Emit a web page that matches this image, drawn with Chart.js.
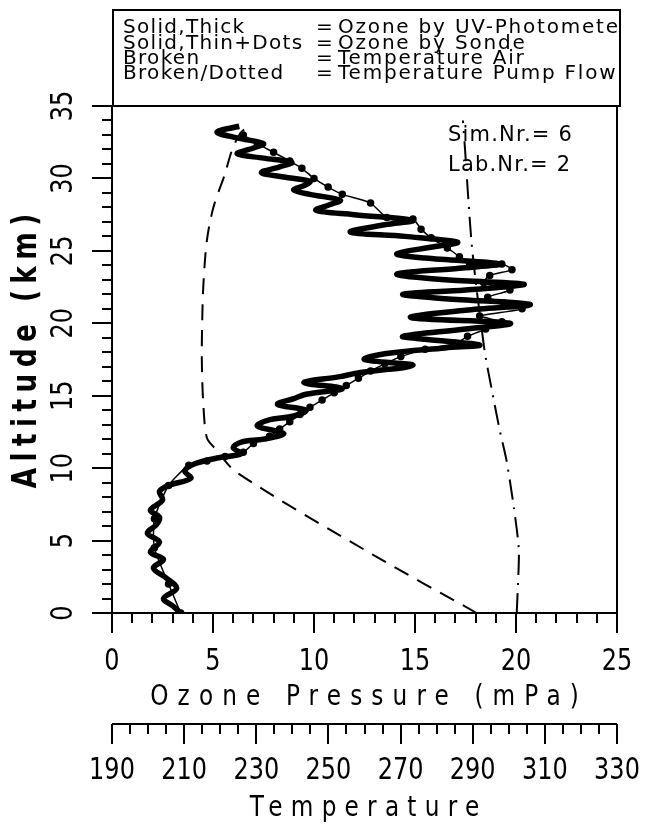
<!DOCTYPE html>
<html>
<head>
<meta charset="utf-8">
<script src="https://cdn.jsdelivr.net/npm/chart.js@4/dist/chart.umd.min.js"></script>
<style>
  html, body { margin: 0; padding: 0; background: #fff; }
</style>
</head>
<body>
<canvas id="chart" width="648" height="824"></canvas>
<script>
// ---- data ----
// UV-photometer ozone (thick line): altitude km / partial pressure mPa
const uvAlt = [0.0, 0.5, 1.0, 1.7, 2.4, 3.1, 3.7, 4.2, 4.9, 5.5, 6.1, 6.6, 7.1, 7.8, 8.4, 8.8, 9.3, 9.8, 10.3, 10.7,
  11.0, 11.4, 11.8, 12.0, 12.4, 12.9, 13.3, 13.6, 14.0, 14.4, 14.8, 15.1, 15.5, 15.9, 16.3, 16.6, 17.1, 17.5, 17.9, 18.3,
  18.5, 18.9, 19.1, 19.6, 20.0, 20.4, 20.9, 21.3, 21.7, 22.0, 22.3, 22.7, 23.0, 23.4, 23.8, 24.1, 24.5, 24.8, 25.3, 25.6,
  26.0, 26.3, 26.8, 27.1, 27.5, 27.8, 28.2, 28.5, 28.9, 29.2, 29.5, 29.8, 30.1, 30.4, 30.8, 31.1, 31.4, 31.7, 32.1, 32.4,
  32.8, 33.2, 33.6];
const uvOzone = [3.4, 3.0, 2.55, 3.2, 2.7, 2.05, 2.55, 1.9, 2.35, 1.75, 2.2, 2.35, 1.9, 2.5, 2.35, 2.8, 3.9, 3.6, 4.1, 5.2,
  6.4, 6.0, 6.4, 7.5, 8.5, 7.2, 7.7, 9.0, 9.6, 8.2, 9.0, 9.6, 11.4, 9.5, 11.2, 12.3, 14.9, 12.5, 13.5, 16.5,
  18.2, 15.5, 14.4, 17.5, 19.7, 14.8, 17.5, 20.7, 16.5, 14.4, 17.5, 20.4, 16.5, 14.1, 17.2, 19.2, 15.5, 14.1, 16.0, 17.1,
  14.5, 11.8, 13.5, 14.9, 12.0, 10.1, 10.8, 11.3, 9.8, 9.0, 9.5, 9.8, 8.5, 7.4, 8.3, 8.9, 7.5, 6.2, 7.0, 7.5,
  6.2, 5.2, 6.3];

// ozone sonde (thin line with dots)
const sondeAlt = [0.0, 2.0, 4.5, 6.5, 8.8, 10.2, 10.5, 10.8, 11.1, 11.7, 12.2, 12.7, 13.2, 13.7, 14.2, 14.7, 15.2, 15.7,
  16.2, 16.7, 17.2, 17.7, 18.2, 18.6, 19.1, 19.6, 20.1, 20.5, 21.0, 21.4, 21.8, 22.3, 22.8, 23.3, 23.7, 24.1, 24.1, 24.6,
  25.2, 25.9, 26.5, 27.2, 27.3, 28.3, 28.9, 29.4, 30.0, 30.7, 31.2, 31.8, 32.4, 33.0];
const sondeOzone = [3.4, 2.8, 2.1, 2.1, 2.8, 3.8, 4.7, 5.6, 6.5, 7.0, 7.8, 8.3, 8.8, 9.3, 9.8, 10.4, 11.0, 11.6,
  12.2, 12.8, 13.5, 14.3, 15.5, 17.0, 17.6, 18.5, 19.3, 18.2, 20.3, 19.4, 18.6, 19.7, 18.4, 18.7, 19.8, 19.3, 17.7, 17.2,
  16.6, 15.8, 15.3, 14.9, 13.6, 12.8, 11.4, 10.7, 10.0, 9.4, 8.8, 8.0, 7.2, 6.5];

// air temperature (broken line), K
const airAlt = [0, 4.0, 9.7, 11.35, 12.1, 14.5, 17.5, 20.0, 22.5, 25.7, 28.0, 30.3, 31.9, 33.1, 33.6];
const airTemp = [291.1, 262.5, 224.6, 218.6, 216.3, 215.3, 214.9, 215.0, 215.3, 216.3, 218.1, 221.3, 223.2, 225.5, 227.8];

// pump flow temperature (broken/dotted line), K
const pumpAlt = [0, 4.3, 7.3, 10.5, 12.6, 15.4, 17.9, 20.0, 22.5, 25.5, 28.5, 31.9, 34.0];
const pumpTemp = [302.2, 302.8, 301.4, 299.4, 297.5, 295.3, 293.4, 292.3, 291.0, 289.7, 288.8, 287.9, 287.3];

// axes
const ozoneTicks = [0, 5, 10, 15, 20, 25];
const tempTicks = [190, 210, 230, 250, 270, 290, 310, 330];
const altTicks = [0, 5, 10, 15, 20, 25, 30, 35];

const legendKeys = ["Solid,Thick", "Solid,Thin+Dots", "Broken", "Broken/Dotted"];
const legendText = ["Ozone by UV-Photometer", "Ozone by Sonde", "Temperature Air", "Temperature Pump Flow"];
const infoRows = ["Sim.Nr.= 6", "Lab.Nr.= 2"];

function pairs(xs, ys) {
  return xs.map((x, i) => ({ x: x, y: ys[i] }));
}

// text helper: horizontal squeeze + letter spacing like the plotter font
function txt(ctx, s, x, y, o) {
  ctx.save();
  ctx.translate(x, y);
  if (o.rot) ctx.rotate(o.rot);
  ctx.scale(o.sx || 1, 1);
  ctx.font = (o.weight || "normal") + " " + o.size + "px " + (o.family || "'DejaVu Sans'");
  ctx.letterSpacing = (o.ls || 0) + "px";
  ctx.textBaseline = "middle";
  ctx.fillStyle = "#000";
  const w = ctx.measureText(s).width - (o.ls || 0);
  let dx = 0;
  if (o.align === "center") dx = -w / 2;
  else if (o.align === "right") dx = -w;
  ctx.fillText(s, dx, 0);
  ctx.restore();
}

const decor = {
  id: "decor",
  afterDraw(chart) {
    const ctx = chart.ctx;
    const a = chart.chartArea;
    const sx = chart.scales.x, sy = chart.scales.y, st = chart.scales.xT;
    ctx.save();
    ctx.strokeStyle = "#000";
    ctx.lineWidth = 2;
    ctx.lineCap = "butt";

    // plot frame and legend box
    ctx.strokeRect(a.left, a.top, a.right - a.left, a.bottom - a.top);
    ctx.strokeRect(a.left + 1, 10, a.right - a.left + 2, a.top - 10);

    // ozone axis ticks
    ctx.beginPath();
    for (let v = 0; v <= 25; v++) {
      const px = Math.round(sx.getPixelForValue(v));
      ctx.moveTo(px, a.bottom);
      ctx.lineTo(px, a.bottom + (v % 5 === 0 ? 20 : 10));
    }
    // altitude ticks
    for (let v = 0; v <= 35; v++) {
      const py = Math.round(sy.getPixelForValue(v));
      ctx.moveTo(a.left, py);
      ctx.lineTo(a.left - (v % 5 === 0 ? 20 : 10), py);
    }
    // temperature axis
    const ty = st.top + 2;
    ctx.moveTo(st.getPixelForValue(190), ty);
    ctx.lineTo(st.getPixelForValue(330), ty);
    for (let v = 190; v <= 330; v += 5) {
      const px = Math.round(st.getPixelForValue(v));
      ctx.moveTo(px, ty);
      ctx.lineTo(px, ty + ((v - 190) % 20 === 0 ? 20 : 10));
    }
    ctx.stroke();

    // tick labels
    ozoneTicks.forEach(v => txt(ctx, String(v), sx.getPixelForValue(v), 662, { size: 30, sx: 0.8, align: "center" }));
    tempTicks.forEach(v => txt(ctx, String(v), st.getPixelForValue(v), 771, { size: 30, sx: 0.8, align: "center" }));
    altTicks.forEach(v => txt(ctx, String(v), 64, sy.getPixelForValue(v), { size: 30, sx: 0.8, align: "center", rot: -Math.PI / 2 }));

    // axis titles
    txt(ctx, "Ozone Pressure (mPa)", (a.left + a.right) / 2, 697, { size: 29, sx: 0.8, ls: 11.4, align: "center" });
    txt(ctx, "Temperature", (a.left + a.right) / 2, 808, { size: 29, sx: 0.8, ls: 10.3, align: "center" });
    txt(ctx, "Altitude (km)", 27, 351, { size: 33, sx: 0.8, ls: 8, align: "center", rot: -Math.PI / 2, weight: "bold" });

    // legend text, clipped to the box
    ctx.save();
    ctx.beginPath();
    ctx.rect(a.left, 10, a.right - a.left + 2, a.top - 10);
    ctx.clip();
    legendKeys.forEach((k, i) => {
      const y = 28 + i * 15.3;
      txt(ctx, k, 123, y, { size: 20, ls: 1.3 });
      txt(ctx, "=", 316, y, { size: 20 });
      txt(ctx, legendText[i], 338, y, { size: 20, ls: 1.8 });
    });
    ctx.restore();

    infoRows.forEach((r, i) => txt(ctx, r, 448, 136 + i * 30, { size: 21, ls: 1.2 }));
    ctx.restore();
  }
};

new Chart(document.getElementById("chart"), {
  type: "scatter",
  data: {
    datasets: [
      {
        label: "Ozone by UV-Photometer",
        data: pairs(uvOzone, uvAlt),
        showLine: true,
        borderColor: "#000",
        borderWidth: 5.5,
        pointRadius: 0,
        tension: 0.35
      },
      {
        label: "Ozone by Sonde",
        data: pairs(sondeOzone, sondeAlt),
        showLine: true,
        borderColor: "#000",
        backgroundColor: "#000",
        borderWidth: 1.5,
        pointRadius: 3,
        tension: 0.2
      },
      {
        label: "Temperature Air",
        data: pairs(airTemp, airAlt),
        xAxisID: "xT",
        showLine: true,
        borderColor: "#000",
        borderWidth: 2,
        borderDash: [16, 10],
        pointRadius: 0,
        tension: 0.3
      },
      {
        label: "Temperature Pump Flow",
        data: pairs(pumpTemp, pumpAlt),
        xAxisID: "xT",
        showLine: true,
        borderColor: "#000",
        borderWidth: 2,
        borderDash: [20, 8, 2, 8],
        pointRadius: 0,
        tension: 0.2
      }
    ]
  },
  options: {
    responsive: false,
    devicePixelRatio: 1,
    animation: false,
    layout: { padding: { top: 106, right: 31, left: 0, bottom: 0 } },
    plugins: { legend: { display: false }, tooltip: { enabled: false } },
    scales: {
      x: {
        type: "linear", position: "bottom", min: 0, max: 25, weight: 1,
        ticks: { display: false }, grid: { display: false }, border: { display: false },
        afterFit: s => { s.height = 109; }
      },
      xT: {
        type: "linear", position: "bottom", min: 190, max: 330, weight: 2,
        ticks: { display: false }, grid: { display: false }, border: { display: false },
        afterFit: s => { s.height = 102; }
      },
      y: {
        type: "linear", position: "left", min: 0, max: 35,
        ticks: { display: false }, grid: { display: false }, border: { display: false },
        afterFit: s => { s.width = 112; }
      }
    }
  },
  plugins: [decor]
});
</script>
</body>
</html>
